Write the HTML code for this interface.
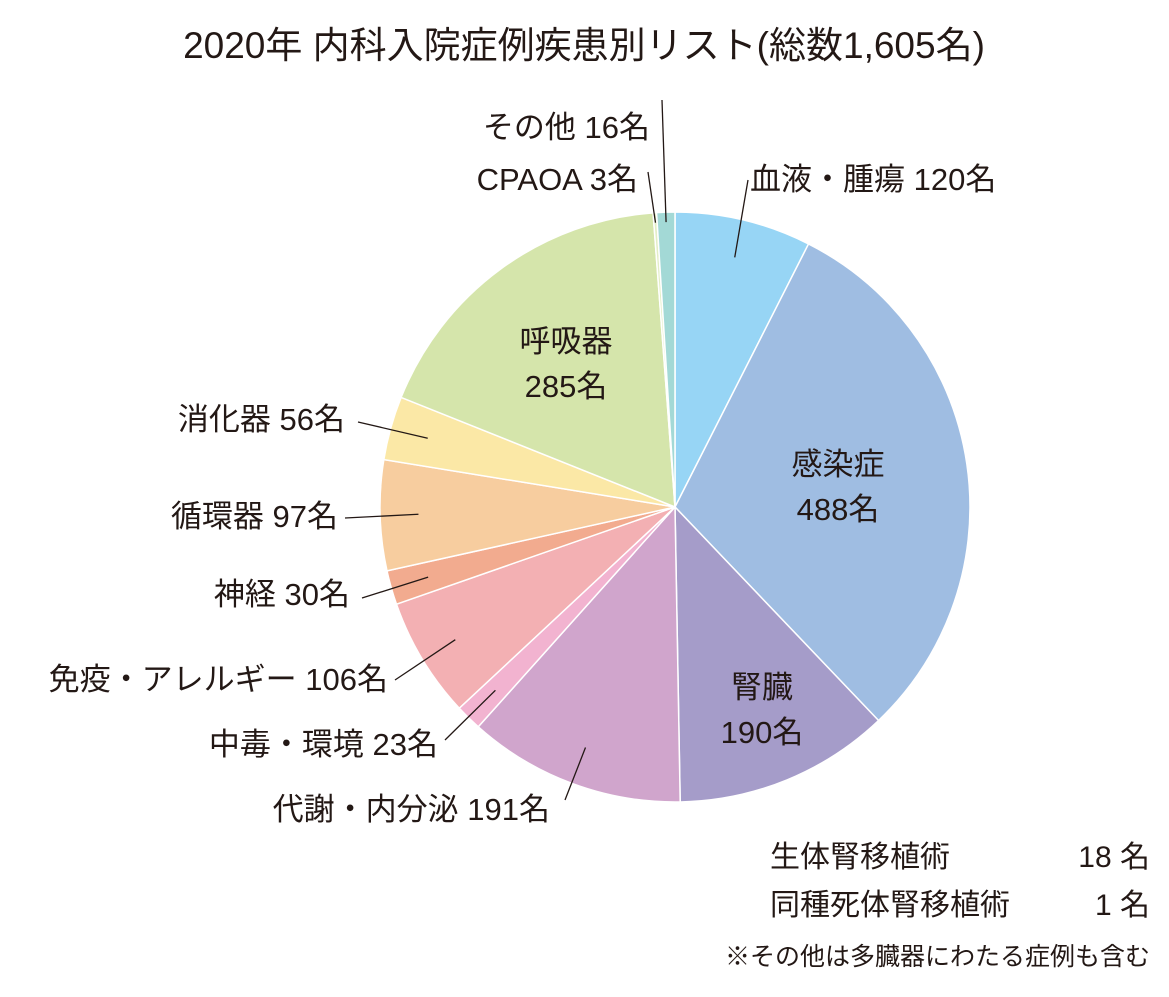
<!DOCTYPE html>
<html><head><meta charset="utf-8">
<style>
body{margin:0;background:#fff;}
svg text{font-family:"Liberation Sans","Noto Sans CJK JP",sans-serif;fill:#231815;}
</style></head>
<body>
<svg id="chart" width="1169" height="992" viewBox="0 0 1169 992" xmlns="http://www.w3.org/2000/svg">
<text x="584" y="58" font-size="37" text-anchor="middle">2020年 内科入院症例疾患別リスト(総数1,605名)</text>
<g id="slices"></g>
<g id="leaders" stroke="#231815" stroke-width="1.3"></g>
<g id="labels"></g>
<text x="770" y="867" font-size="30">生体腎移植術</text>
<text x="1150" y="867" font-size="30" text-anchor="end">18 名</text>
<text x="770" y="915" font-size="30">同種死体腎移植術</text>
<text x="1150" y="915" font-size="30" text-anchor="end">1 名</text>
<text x="1150" y="965" font-size="25" text-anchor="end">※その他は多臓器にわたる症例も含む</text>
</svg>
<script>
const categories=["血液・腫瘍","感染症","腎臓","代謝・内分泌","中毒・環境","免疫・アレルギー","神経","循環器","消化器","呼吸器","CPAOA","その他"];
const values=[120,488,190,191,23,106,30,97,56,285,3,16];
const colors=["#97d5f5","#9fbde2","#a59cc9","#d0a5cc","#f2b3d0","#f3b0b3","#f2ab8f","#f7cd9f","#fbe8a6","#d5e5ab","#e3eec6","#a3d9d6"];
// label placement: [x,y,anchor,inside, leaderX, leaderY]
const layout=[
 [750,190,"start",false,748,180],
 [838,475,"middle",true],
 [762,698,"middle",true],
 [550,820,"end",false,565,800],
 [438,755,"end",false,445,740],
 [388,690,"end",false,395,680],
 [350,605,"end",false,362,598],
 [338,527,"end",false,345,518],
 [345,430,"end",false,358,422],
 [566,352,"middle",true],
 [638,190,"end",false,648,172],
 [650,138,"end",false,662,100]
];
const cx=675,cy=507,R=295;
const NS="http://www.w3.org/2000/svg";
const total=values.reduce((a,b)=>a+b,0);
const sl=document.getElementById('slices'),ld=document.getElementById('leaders'),lb=document.getElementById('labels');
function pt(a,r){return [cx+r*Math.sin(a),cy-r*Math.cos(a)];}
let acc=0;
values.forEach((v,i)=>{
 const a0=acc/total*2*Math.PI; acc+=v; const a1=acc/total*2*Math.PI;
 const p0=pt(a0,R),p1=pt(a1,R);
 const p=document.createElementNS(NS,'path');
 p.setAttribute('d',`M${cx},${cy}L${p0[0]},${p0[1]}A${R},${R} 0 ${a1-a0>Math.PI?1:0} 1 ${p1[0]},${p1[1]}Z`);
 p.setAttribute('fill',colors[i]);p.setAttribute('stroke','#fff');p.setAttribute('stroke-width','1.5');
 
 
 sl.appendChild(p);
 const L=layout[i],am=(a0+a1)/2;
 if(L[3]){
  [categories[i],v+'名'].forEach((s,k)=>{
   const t=document.createElementNS(NS,'text');
   t.setAttribute('x',L[0]);t.setAttribute('y',L[1]+k*45);t.setAttribute('font-size','31');t.setAttribute('text-anchor','middle');
   t.textContent=s;
   
   
   lb.appendChild(t);
  });
 } else {
  const pin=pt(am,i>=10?R-10:R*0.87);
  const l=document.createElementNS(NS,'line');
  l.setAttribute('x1',pin[0]);l.setAttribute('y1',pin[1]);l.setAttribute('x2',L[4]);l.setAttribute('y2',L[5]);
  
  
  ld.appendChild(l);
  const t=document.createElementNS(NS,'text');
  t.setAttribute('x',L[0]);t.setAttribute('y',L[1]);t.setAttribute('font-size','31');t.setAttribute('text-anchor',L[2]);
  t.textContent=categories[i]+' '+v+'名';
  
  
  lb.appendChild(t);
 }
});
</script>
</body></html>
